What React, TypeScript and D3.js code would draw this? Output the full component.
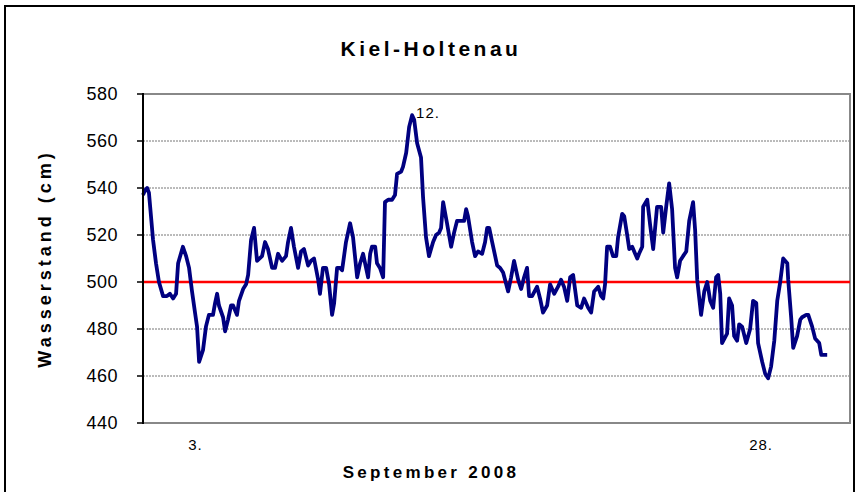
import React from "react";
import * as d3 from "d3";

// Wasserstand Kiel-Holtenau, September 2008 (Tage ab 1.9. 00:00, cm)
const days = [
  0.0, 0.09, 0.18, 0.26, 0.44, 0.57, 0.7, 0.88, 1.05, 1.18, 1.32, 1.45, 1.54, 1.75, 1.89, 2.02,
  2.15, 2.28, 2.37, 2.46, 2.63, 2.76, 2.89, 3.07, 3.16, 3.25, 3.33, 3.51, 3.6, 3.73, 3.86, 3.95,
  4.12, 4.21, 4.39, 4.52, 4.61, 4.74, 4.87, 5.0, 5.22, 5.35, 5.48, 5.66, 5.79, 5.92, 6.1, 6.27,
  6.36, 6.49, 6.62, 6.8, 6.93, 7.06, 7.24, 7.37, 7.5, 7.68, 7.76, 7.89, 8.03, 8.16, 8.29, 8.38,
  8.51, 8.64, 8.73, 8.9, 9.08, 9.21, 9.39, 9.52, 9.65, 9.78, 9.87, 9.96, 10.04, 10.18, 10.26, 10.39,
  10.53, 10.61, 10.75, 10.92, 11.05, 11.14, 11.32, 11.4, 11.54, 11.67, 11.8, 11.89, 12.02, 12.19, 12.28, 12.41,
  12.54, 12.72, 12.85, 12.98, 13.07, 13.16, 13.33, 13.51, 13.64, 13.77, 13.95, 14.08, 14.17, 14.25, 14.43, 14.56,
  14.69, 14.87, 15.0, 15.09, 15.18, 15.31, 15.53, 15.66, 15.79, 16.01, 16.14, 16.27, 16.45, 16.58, 16.71, 16.84,
  16.93, 17.06, 17.28, 17.41, 17.54, 17.72, 17.85, 18.03, 18.2, 18.33, 18.46, 18.6, 18.73, 18.86, 19.04, 19.21,
  19.34, 19.52, 19.65, 19.78, 19.96, 20.09, 20.18, 20.26, 20.35, 20.48, 20.61, 20.75, 20.83, 21.01, 21.1, 21.23,
  21.32, 21.45, 21.58, 21.67, 21.75, 21.89, 21.93, 22.11, 22.24, 22.37, 22.54, 22.63, 22.72, 22.81, 22.94, 23.07,
  23.2, 23.33, 23.42, 23.55, 23.68, 23.82, 23.95, 24.12, 24.21, 24.3, 24.47, 24.61, 24.74, 24.87, 25.0, 25.13,
  25.22, 25.31, 25.39, 25.61, 25.7, 25.83, 25.92, 26.05, 26.14, 26.27, 26.45, 26.62, 26.75, 26.89, 26.97, 27.15,
  27.28, 27.41, 27.54, 27.68, 27.81, 27.94, 28.07, 28.25, 28.29, 28.42, 28.51, 28.68, 28.82, 28.9, 29.08, 29.17,
  29.34, 29.47, 29.65, 29.74, 29.87, 30.0,
];

const levels = [
  537, 539, 540, 538, 518, 508, 500, 494, 494, 495, 493, 495, 508, 515, 511, 506,
  496, 487, 481, 466, 471, 481, 486, 486, 491, 495, 490, 485, 479, 484, 490, 490,
  486, 492, 497, 499, 503, 518, 523, 509, 511, 517, 514, 506, 506, 512, 509, 511,
  517, 523, 515, 506, 513, 514, 507, 509, 510, 501, 495, 506, 506, 499, 486, 491,
  506, 506, 505, 517, 525, 519, 502, 508, 512, 506, 502, 512, 515, 515, 508, 506,
  502, 534, 535, 535, 537, 546, 547, 549, 555, 566, 571, 569, 559, 553, 536, 519,
  511, 517, 520, 521, 523, 534, 525, 515, 521, 526, 526, 526, 531, 528, 517, 511,
  513, 512, 517, 523, 523, 517, 507, 506, 504, 496, 502, 509, 501, 497, 502, 506,
  494, 494, 498, 493, 487, 490, 499, 495, 498, 501, 498, 492, 502, 503, 490, 489,
  493, 489, 487, 496, 498, 494, 493, 499, 515, 515, 511, 511, 519, 529, 528, 520,
  514, 515, 512, 510, 512, 515, 532, 535, 524, 514, 532, 532, 532, 521, 532, 542,
  531, 506, 502, 509, 511, 513, 526, 534, 522, 501, 486, 496, 500, 492, 489, 502,
  503, 495, 474, 478, 493, 490, 477, 475, 482, 481, 474, 480, 492, 491, 474, 466,
  461, 459, 464, 475, 492, 500, 510, 508, 501, 485, 472, 477, 484, 485, 486, 486,
  481, 476, 474, 469, 469, 469,
];

const yTicks = [440, 460, 480, 500, 520, 540, 560, 580];
const dayLabels = [
  { text: "3.", day: 2.3 },
  { text: "28.", day: 27.1 },
];
const meanLevel = 500;
const peakLabel = "12.";

const W = 857;
const H = 492;
const M = { left: 143, right: 850, top: 94, bottom: 423 };
const FONT = "'Liberation Sans', Arial, Helvetica, sans-serif";

export default function App() {
  const x = d3.scaleLinear().domain([0, 31]).range([M.left, M.right]);
  const y = d3.scaleLinear().domain([440, 580]).range([M.bottom, M.top]);

  const series = days.map((d, i) => ({ day: d, v: levels[i] }));
  const line = d3
    .line<{ day: number; v: number }>()
    .x((d) => x(d.day))
    .y((d) => y(d.v));

  const peak = series.reduce((a, b) => (b.v > a.v ? b : a));

  return (
    <svg
      width={W}
      height={H}
      style={{ position: "absolute", left: 0, top: 0, background: "#fff" }}
      fontFamily={FONT}
    >
      {/* outer chart frame */}
      <rect x={5} y={6} width={849} height={H + 10} fill="#fff" stroke="#000" strokeWidth={2} />

      <text
        x={431}
        y={56}
        textAnchor="middle"
        fontSize={21}
        fontWeight="bold"
        letterSpacing={3.5}
      >
        Kiel-Holtenau
      </text>

      {/* gridlines */}
      {yTicks
        .filter((t) => t !== 440 && t !== 580)
        .map((t) => (
          <line
            key={"g" + t}
            x1={M.left}
            x2={M.right}
            y1={y(t)}
            y2={y(t)}
            stroke="#777"
            strokeWidth={1}
            strokeDasharray="2,1"
          />
        ))}

      {/* plot frame */}
      <polyline
        points={`${M.left},${M.top} ${M.right},${M.top} ${M.right},${M.bottom} ${M.left},${M.bottom}`}
        fill="none"
        stroke="#888"
        strokeWidth={2}
      />

      <line
        x1={M.left}
        x2={M.right}
        y1={y(meanLevel)}
        y2={y(meanLevel)}
        stroke="#ff0000"
        strokeWidth={2.5}
      />

      <path
        d={line(series) ?? ""}
        fill="none"
        stroke="#000080"
        strokeWidth={3.8}
        strokeLinejoin="round"
      />

      {/* y axis */}
      <line x1={M.left} x2={M.left} y1={M.top - 1} y2={M.bottom + 1} stroke="#000" strokeWidth={2} />
      {yTicks.map((t) => (
        <g key={"t" + t}>
          <line x1={M.left - 6} x2={M.left} y1={y(t)} y2={y(t)} stroke="#000" strokeWidth={1.5} />
          <text x={118} y={y(t) + 6} textAnchor="end" fontSize={18} letterSpacing={0.5}>
            {t}
          </text>
        </g>
      ))}

      {dayLabels.map((l) => (
        <text key={l.text} x={x(l.day)} y={450} textAnchor="middle" fontSize={15} letterSpacing={1}>
          {l.text}
        </text>
      ))}

      <text x={x(peak.day) + 4} y={118} fontSize={15} letterSpacing={1}>
        {peakLabel}
      </text>

      <text
        x={431}
        y={478}
        textAnchor="middle"
        fontSize={17}
        fontWeight="bold"
        letterSpacing={3.3}
      >
        September 2008
      </text>

      <text
        transform={`translate(51, ${(M.top + M.bottom) / 2}) rotate(-90)`}
        textAnchor="middle"
        fontSize={18}
        fontWeight="bold"
        letterSpacing={4}
      >
        Wasserstand (cm)
      </text>
    </svg>
  );
}
